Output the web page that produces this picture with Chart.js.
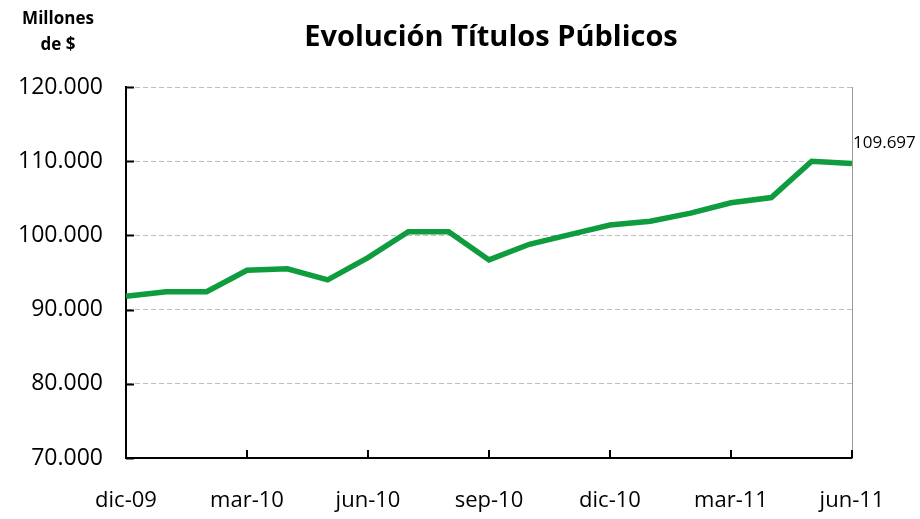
<!DOCTYPE html>
<html>
<head>
<meta charset="utf-8">
<script src="https://cdn.jsdelivr.net/npm/chart.js@4"></script>
<style>
  html, body { margin: 0; padding: 0; background: #fff; }
  #wrap { width: 920px; height: 519px; }
</style>
</head>
<body>
<div id="wrap"><canvas id="chart" width="920" height="519"></canvas></div>
<script>
const months = [
  'dic-09', 'ene-10', 'feb-10', 'mar-10', 'abr-10', 'may-10', 'jun-10',
  'jul-10', 'ago-10', 'sep-10', 'oct-10', 'nov-10', 'dic-10',
  'ene-11', 'feb-11', 'mar-11', 'abr-11', 'may-11', 'jun-11'
];
// millones de $
const titulosPublicos = [
  91.8, 92.4, 92.4, 95.3, 95.5, 94.0, 97.0,
  100.5, 100.5, 96.7, 98.8, 100.1, 101.4,
  101.9, 103.0, 104.4, 105.1, 110.0, 109.697
];
const yTicks = [70, 80, 90, 100, 110, 120];
const chartTitle = 'Evolución Títulos Públicos';
const unitLines = ['Millones', 'de $'];
const lastLabel = '109.697';

const FONT = "'Open Sans', 'Noto Sans', sans-serif";
const green = '#0e9c3e';

const fmt = (v) => v.toFixed(3);

// short tick marks pointing into the plot, title, unit label and last-point label
const extras = {
  id: 'extras',
  afterDraw(chart) {
    const { ctx, chartArea, scales } = chart;
    const x = scales.x;
    const y = scales.y;
    ctx.save();
    ctx.setLineDash([]);
    ctx.strokeStyle = '#000';
    ctx.lineWidth = 2;
    yTicks.forEach((v) => {
      const py = Math.round(y.getPixelForValue(v)) + 0.5;
      ctx.beginPath();
      ctx.moveTo(chartArea.left, py);
      ctx.lineTo(chartArea.left + 8, py);
      ctx.stroke();
    });
    months.forEach((m, i) => {
      if (i === 0 || i % 3 !== 0) return;
      const px = Math.round(x.getPixelForValue(i));
      ctx.beginPath();
      ctx.moveTo(px, chartArea.bottom);
      ctx.lineTo(px, chartArea.bottom - 8);
      ctx.stroke();
    });

    ctx.fillStyle = '#000';
    ctx.textAlign = 'center';
    ctx.textBaseline = 'middle';
    ctx.font = `bold 29px ${FONT}`;
    ctx.fillText(chartTitle, 491, 38);

    ctx.font = `bold 17px ${FONT}`;
    ctx.fillText(unitLines[0], 58, 19);
    ctx.fillText(unitLines[1], 58, 45);

    const last = titulosPublicos.length - 1;
    ctx.font = `17px ${FONT}`;
    ctx.textAlign = 'left';
    ctx.fillText(lastLabel, x.getPixelForValue(last) + 1, y.getPixelForValue(titulosPublicos[last]) - 20);
    ctx.restore();
  }
};

new Chart(document.getElementById('chart'), {
  type: 'line',
  data: {
    labels: months,
    datasets: [{
      label: 'Títulos Públicos',
      data: titulosPublicos,
      borderColor: green,
      borderWidth: 5.5,
      pointRadius: 0,
      tension: 0,
      fill: false
    }]
  },
  options: {
    responsive: false,
    animation: false,
    layout: { padding: { top: 87, right: 68, left: 0, bottom: 0 } },
    plugins: {
      legend: { display: false },
      tooltip: { enabled: false },
      title: { display: false }
    },
    scales: {
      x: {
        type: 'category',
        offset: false,
        grid: { display: false, drawTicks: false },
        border: { color: '#000', width: 2 },
        ticks: {
          autoSkip: false,
          maxRotation: 0,
          padding: 30,
          color: '#000',
          font: { family: FONT, size: 22 },
          callback(value, index) {
            return index % 3 === 0 ? months[index] : '';
          }
        },
        afterFit(scale) { scale.height = 61; }
      },
      y: {
        min: 70,
        max: 120,
        afterBuildTicks(scale) { scale.ticks = yTicks.map((v) => ({ value: v })); },
        grid: {
          color: '#bdbdbd',
          lineWidth: 1,
          drawTicks: false
        },
        border: { color: '#000', width: 2, dash: [5, 3] },
        ticks: {
          padding: 23,
          color: '#000',
          font: { family: FONT, size: 23 },
          callback: (v) => fmt(v)
        },
        afterFit(scale) { scale.width = 126; }
      },
      yRight: {
        position: 'right',
        min: 70,
        max: 120,
        grid: { display: false, drawTicks: false },
        border: { color: '#9a9a9a', width: 1 },
        ticks: { display: false },
        afterFit(scale) { scale.width = 0; }
      }
    }
  },
  plugins: [extras]
});
</script>
</body>
</html>
